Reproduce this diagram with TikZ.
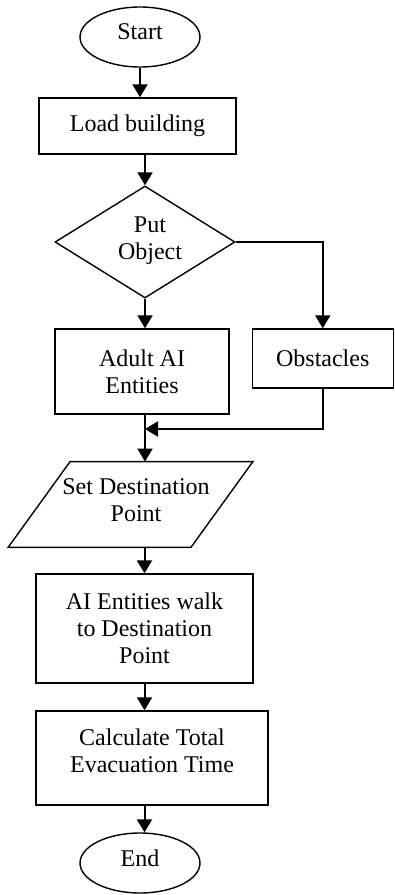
\documentclass[tikz,border=0pt]{standalone}
\usepackage{fontspec}
\setmainfont{Liberation Serif}
\usetikzlibrary{shapes.geometric,arrows.meta}
\begin{document}
\begin{tikzpicture}[x=0.5pt,y=-0.5pt,
  every node/.style={font=\fontsize{12}{13.5}\selectfont, align=center, inner sep=0pt},
  box/.style={draw, line width=0.7pt, rectangle},
  oval/.style={draw, line width=0.7pt, ellipse, minimum width=60pt, minimum height=30pt, text depth=5pt},
  dec/.style={draw, line width=0.7pt, diamond, aspect=1.6, minimum width=90pt, minimum height=56pt},
  conn/.style={line width=1pt},
  arr/.style={line width=1pt, -{Triangle[length=6.5pt,width=7.5pt]}}]
\useasboundingbox (0,0) rectangle (395,895);
\node[oval] (start) at (140,37) {Start};
\node[box, minimum width=98.5pt, minimum height=28pt] (load) at (137.5,126) {Load building};
\node[dec, text depth=4pt] (put) at (145,242) {\hspace{5pt}Put\\\hspace{5pt}Object};
\node[box, minimum width=87pt, minimum height=42.5pt] (adult) at (142,371.5) {Adult AI\\Entities};
\node[box, minimum width=70.5pt, minimum height=29.5pt] (obst) at (322.75,358.5) {Obstacles};
\coordinate (j) at (145,429);
\node[minimum width=91pt, minimum height=42.5pt] (dest) at (130.5,504.5) {};
\node at (136,500) {Set Destination\\Point};
\draw[line width=0.7pt] ([xshift=15.5pt]dest.north west) -- ([xshift=15.5pt]dest.north east)
  -- ([xshift=-15.5pt]dest.south east) -- ([xshift=-15.5pt]dest.south west) -- cycle;
\node[box, minimum width=108.5pt, minimum height=54.5pt] (walk) at (144.5,628.5) {AI Entities walk\\to Destination\\Point};
\node[box, minimum width=116pt, minimum height=47pt, text depth=7pt] (calc) at (152,758) {Calculate Total\\Evacuation Time};
\node[oval] (end) at (140,863) {End};
\draw[arr] (start.south) -- (start.south |- load.north);
\draw[arr] (load.south -| put.north) -- (put.north);
\draw[arr] (put.south) -- (put.south |- adult.north);
\draw[arr] (put.east) -| (obst.north);
\draw[arr] (obst.south) |- (j);
\draw[arr] (adult.south -| j) -- (j |- dest.north);
\draw[arr] (walk.north |- dest.south) -- (walk.north);
\draw[arr] (walk.south) -- (walk.south |- calc.north);
\draw[arr] (calc.south -| walk.south) -- (walk.south |- end.north);
\end{tikzpicture}
\end{document}
